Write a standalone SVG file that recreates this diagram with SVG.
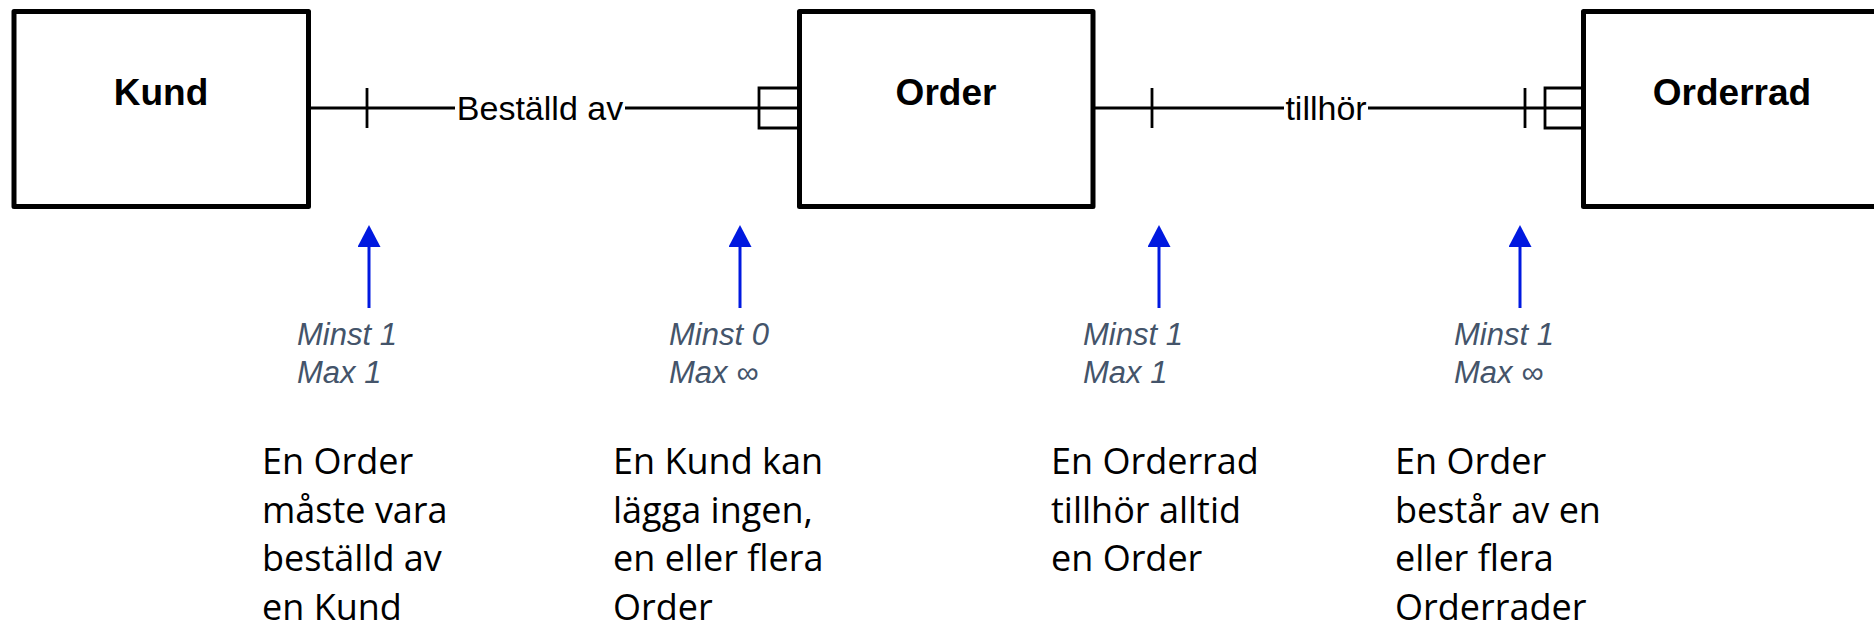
<svg xmlns="http://www.w3.org/2000/svg" width="1874" height="632" viewBox="0 0 1874 632">
<style>
.box{fill:#fff;stroke:#000;stroke-width:5;stroke-linejoin:round}
.name{font-family:"Liberation Sans",Arial,sans-serif;font-weight:bold;font-size:37px;fill:#000;text-anchor:middle}
.ln{stroke:#000;stroke-width:2.8;fill:none}
.rel{font-family:"Liberation Sans",Arial,sans-serif;font-size:34px;fill:#000;text-anchor:middle}
.arr{stroke:#0019E0;stroke-width:3;fill:none}
.card{font-family:"Liberation Sans",Arial,sans-serif;font-style:italic;font-size:31px;fill:#44546A}
.note{font-family:"Open Sans","Noto Sans",sans-serif;font-size:36px;fill:#000}
</style>
<defs>
<marker id="ah" markerUnits="userSpaceOnUse" markerWidth="22" markerHeight="23" viewBox="0 0 22 23" refX="0" refY="11.5" orient="auto">
<path d="M0,0 L22,11.5 L0,23 Z" fill="#0019E0"/>
</marker>
</defs>
<rect width="1874" height="632" fill="#fff"/>

<g id="kund">
<rect class="box" x="14" y="11.5" width="294.5" height="195"/>
<text class="name" x="161" y="105">Kund</text>
</g>
<g id="order">
<rect class="box" x="799.5" y="11.5" width="293.5" height="195"/>
<text class="name" x="946" y="105">Order</text>
</g>
<g id="orderrad">
<rect class="box" x="1583.5" y="11.5" width="320" height="195"/>
<text class="name" x="1732" y="105">Orderrad</text>
</g>

<g id="connectors">
<line class="ln" x1="308" y1="108" x2="455" y2="108"/>
<line class="ln" x1="625" y1="108" x2="799" y2="108"/>
<line class="ln" x1="367" y1="88" x2="367" y2="128"/>
<path class="ln" d="M799,88 H759 V128 H799"/>
<text class="rel" x="540" y="120">Beställd av</text>

<line class="ln" x1="1093" y1="108" x2="1284" y2="108"/>
<line class="ln" x1="1368" y1="108" x2="1583" y2="108"/>
<line class="ln" x1="1152" y1="88" x2="1152" y2="128"/>
<line class="ln" x1="1525" y1="88" x2="1525" y2="128"/>
<path class="ln" d="M1583,88 H1545 V128 H1583"/>
<text class="rel" x="1326" y="120">tillhör</text>

<line class="arr" x1="369" y1="308" x2="369" y2="247" marker-end="url(#ah)"/>
<line class="arr" x1="740" y1="308" x2="740" y2="247" marker-end="url(#ah)"/>
<line class="arr" x1="1159" y1="308" x2="1159" y2="247" marker-end="url(#ah)"/>
<line class="arr" x1="1520" y1="308" x2="1520" y2="247" marker-end="url(#ah)"/>
</g>

<g id="cardinalities">
<text class="card" x="297" y="345">Minst 1<tspan x="297" y="383">Max 1</tspan></text>
<text class="card" x="669" y="345">Minst 0<tspan x="669" y="383">Max ∞</tspan></text>
<text class="card" x="1083" y="345">Minst 1<tspan x="1083" y="383">Max 1</tspan></text>
<text class="card" x="1454" y="345">Minst 1<tspan x="1454" y="383">Max ∞</tspan></text>
</g>

<g id="notes">
<text class="note" x="262" y="474">En Order<tspan x="262" y="522.5">måste vara</tspan><tspan x="262" y="571">beställd av</tspan><tspan x="262" y="619.5">en Kund</tspan></text>
<text class="note" x="613" y="474">En Kund kan<tspan x="613" y="522.5">lägga ingen,</tspan><tspan x="613" y="571">en eller flera</tspan><tspan x="613" y="619.5">Order</tspan></text>
<text class="note" x="1051" y="474">En Orderrad<tspan x="1051" y="522.5">tillhör alltid</tspan><tspan x="1051" y="571">en Order</tspan></text>
<text class="note" x="1395" y="474">En Order<tspan x="1395" y="522.5">består av en</tspan><tspan x="1395" y="571">eller flera</tspan><tspan x="1395" y="619.5">Orderrader</tspan></text>
</g>
</svg>
